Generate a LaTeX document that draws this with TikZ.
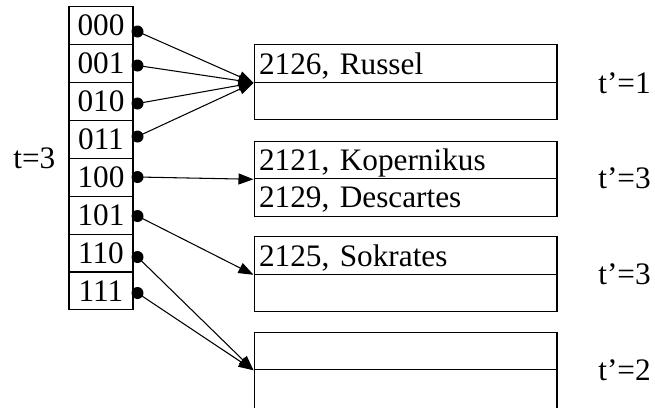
\documentclass[tikz,border=0pt]{standalone}
\usepackage{fontspec}
\setmainfont{Liberation Serif}
\usetikzlibrary{arrows.meta}

\tikzset{
  cell/.style={draw, line width=0.6pt, minimum width=1.28cm, minimum height=0.758cm, inner sep=0pt},
  slot/.style={draw, line width=0.6pt, minimum width=6.06cm, minimum height=0.75cm,
    text width=5.86cm, inner xsep=0.1cm, inner ysep=0pt, align=left, text depth=0pt},
  depth/.style={anchor=west, inner sep=0pt},
  ptr/.style={line width=0.6pt, -{Triangle[length=0.3cm,width=0.22cm]}}
}

\begin{document}
\begin{tikzpicture}[x=0.02cm, y=-0.02cm, font=\fontsize{17.8}{21}\selectfont]
  \useasboundingbox (0,0) rectangle (655,407);
  % the directory
  \foreach \i/\lbl/\py in {0/000/31.5,1/001/65.5,2/010/103.5,3/011/136.5,
                           4/100/177,5/101/216,6/110/257,7/111/293} {
    \node[cell] (d\i) at (101, 25.65+37.9*\i) {\lbl};
    \coordinate (p\i) at (137.5,\py);
    \fill (p\i) circle (0.12cm);
  }
  \node[depth] (t) at (13,158) {t=3};
  % the buckets
  \node[slot] (b1a) at (405.5,63.5) {2126, Russel};
  \node[slot] (b1b) at (405.5,101) {};
  \node[slot] (b2a) at (405.5,160) {2121, Kopernikus};
  \node[slot] (b2b) at (405.5,197.5) {2129, Descartes};
  \node[slot] (b3a) at (405.5,255.5) {2125, Sokrates};
  \node[slot] (b3b) at (405.5,293) {};
  \node[slot] (b4a) at (405.5,351) {};
  \node[slot, minimum height=1.5cm] (b4b) at (405.5,407.25) {};
  % local depths
  \node[depth] (l1) at (598,83) {t’=1};
  \node[depth] (l2) at (598,178) {t’=3};
  \node[depth] (l3) at (598,274) {t’=3};
  \node[depth] (l4) at (598,370) {t’=2};
  % the pointers
  \foreach \i in {0,1,2,3}
    \draw[ptr] (p\i) -- (b1a.south west);
  \draw[ptr] (p4) -- (b2a.south west);
  \draw[ptr] (p5) -- (b3a.south west);
  \draw[ptr] (p6) -- (b4a.south west);
  \draw[ptr] (p7) -- (b4a.south west);
\end{tikzpicture}
\end{document}
